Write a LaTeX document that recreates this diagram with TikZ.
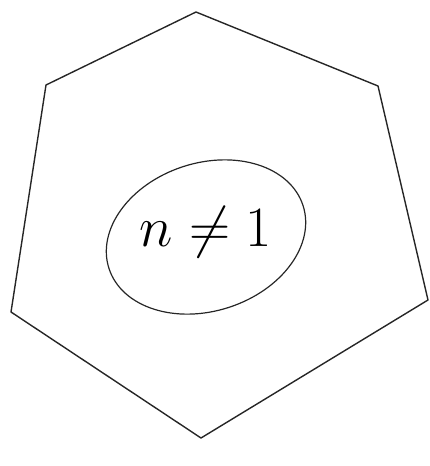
\documentclass[tikz,border=0pt]{standalone}
\usepackage{graphicx}
\begin{document}
\begin{tikzpicture}[x=1pt,y=-1pt,
  edge/.style={draw=black!85,line width=1.4pt,line join=round},
  lbl/.style={font=\LARGE}]
\useasboundingbox (0,0) rectangle (429,466);
\coordinate (t) at (196,12);
\coordinate (ur) at (378,86);
\coordinate (lr) at (428,300);
\coordinate (b) at (201,438);
\coordinate (ll) at (11,312);
\coordinate (ul) at (46,85);
\draw[edge] (t) -- (ur) -- (lr) -- (b) -- (ll) -- (ul) -- cycle;
\node[lbl,inner sep=0pt] (txt) at (206,232) {\scalebox{3.3}{$n\neq1$}};
\draw[edge,line width=1.2pt] (206,237) ellipse[x radius=102, y radius=74, rotate=18];
\end{tikzpicture}
\end{document}
